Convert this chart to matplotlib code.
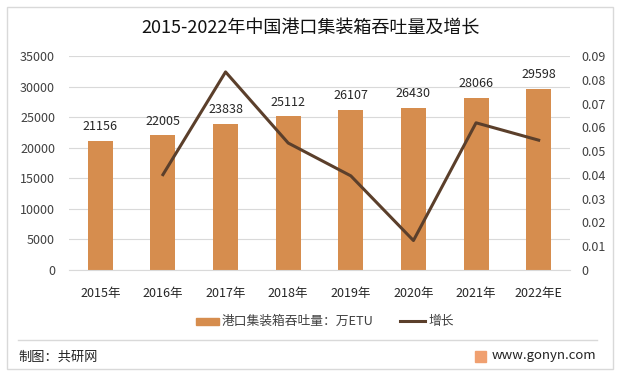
import matplotlib.pyplot as plt
import matplotlib.patches as patches
from matplotlib.lines import Line2D

plt.rcParams['font.family'] = ['Noto Sans CJK SC', 'DejaVu Sans']

# Data
years = ['2015年', '2016年', '2017年', '2018年', '2019年', '2020年', '2021年', '2022年E']
volume = [21156, 22005, 23838, 25112, 26107, 26430, 28066, 29598]
growth = [None, 0.0401, 0.0833, 0.0534, 0.0396, 0.0124, 0.0619, 0.0546]

bar_color = '#D68D4E'
line_color = '#5B3F2B'
grid_color = '#D9D9D9'
text_color = '#404040'

fig = plt.figure(figsize=(6.21, 3.78), dpi=100)
W, H = 621.0, 378.0

# outer frame
fig.add_artist(patches.Rectangle((7 / W, 1 - 369 / H), 606 / W, 362 / H,
                                 transform=fig.transFigure, fill=False,
                                 edgecolor='#D9D9D9', linewidth=1.0))
# separator above footer
fig.add_artist(Line2D([18 / W, 597 / W], [1 - 340 / H, 1 - 340 / H],
                      transform=fig.transFigure, color='#D9D9D9', linewidth=1.0))

ax = fig.add_axes([69 / W, 1 - 270 / H, (570 - 69) / W, (270 - 56) / H])
x = list(range(len(years)))
ax.bar(x, volume, width=0.4, color=bar_color, zorder=2)
ax.set_xlim(-0.5, len(years) - 0.5)
ax.set_ylim(0, 35000)
ax.set_yticks(range(0, 35001, 5000))
ax.yaxis.grid(True, color=grid_color, linewidth=0.8, zorder=0)
for s in ['top', 'right', 'left']:
    ax.spines[s].set_visible(False)
ax.spines['bottom'].set_color(grid_color)
ax.tick_params(axis='both', length=0, labelsize=9, colors=text_color)
ax.tick_params(axis='x', colors='#262626')
ax.tick_params(axis='y', pad=10)
ax.tick_params(axis='x', pad=12)
ax.set_xticks(x)
ax.set_xticklabels(years)
for xi, v in zip(x, volume):
    ax.text(xi, v + 1300, str(v), ha='center', va='bottom', fontsize=9, color='#262626')

ax2 = ax.twinx()
gx = [xi for xi, g in zip(x, growth) if g is not None]
gy = [g for g in growth if g is not None]
ax2.plot(gx, gy, color=line_color, linewidth=2.2, zorder=3)
ax2.set_ylim(0, 0.09)
ax2.set_yticks([i / 100 for i in range(10)])
ax2.set_yticklabels(['0'] + ['%.2f' % (i / 100) for i in range(1, 10)])
for s in ['top', 'right', 'left', 'bottom']:
    ax2.spines[s].set_visible(False)
ax2.tick_params(axis='y', length=0, labelsize=9, colors=text_color, pad=8)

fig.text(0.5, 1 - 28 / H, '2015-2022年中国港口集装箱吞吐量及增长', ha='center', va='center',
         fontsize=13, color='#111111')

# legend
leg_y = 1 - 321 / H
fig.add_artist(patches.Rectangle((196 / W, leg_y - 3.5 / H), 23 / W, 7 / H,
                                 transform=fig.transFigure, color=bar_color))
fig.text(222 / W, leg_y, '港口集装箱吞吐量：万ETU', ha='left', va='center', fontsize=9.2, color=text_color)
fig.add_artist(Line2D([400 / W, 425 / W], [leg_y, leg_y], transform=fig.transFigure,
                      color=line_color, linewidth=2.2))
fig.text(428 / W, leg_y, '增长', ha='left', va='center', fontsize=9.2, color=text_color)

# footer
fig.text(18 / W, 1 - 357 / H, '制图：共研网', ha='left', va='center', fontsize=9.5, color='#222222')
fig.add_artist(patches.Rectangle((475 / W, 1 - 362 / H), 11 / W, 11 / H,
                                 transform=fig.transFigure, color='#F0A070'))
fig.text(492 / W, 1 - 356 / H, 'www.gonyn.com', ha='left', va='center', fontsize=9.5, color='#222222')

fig.savefig('out.png', dpi=100)
